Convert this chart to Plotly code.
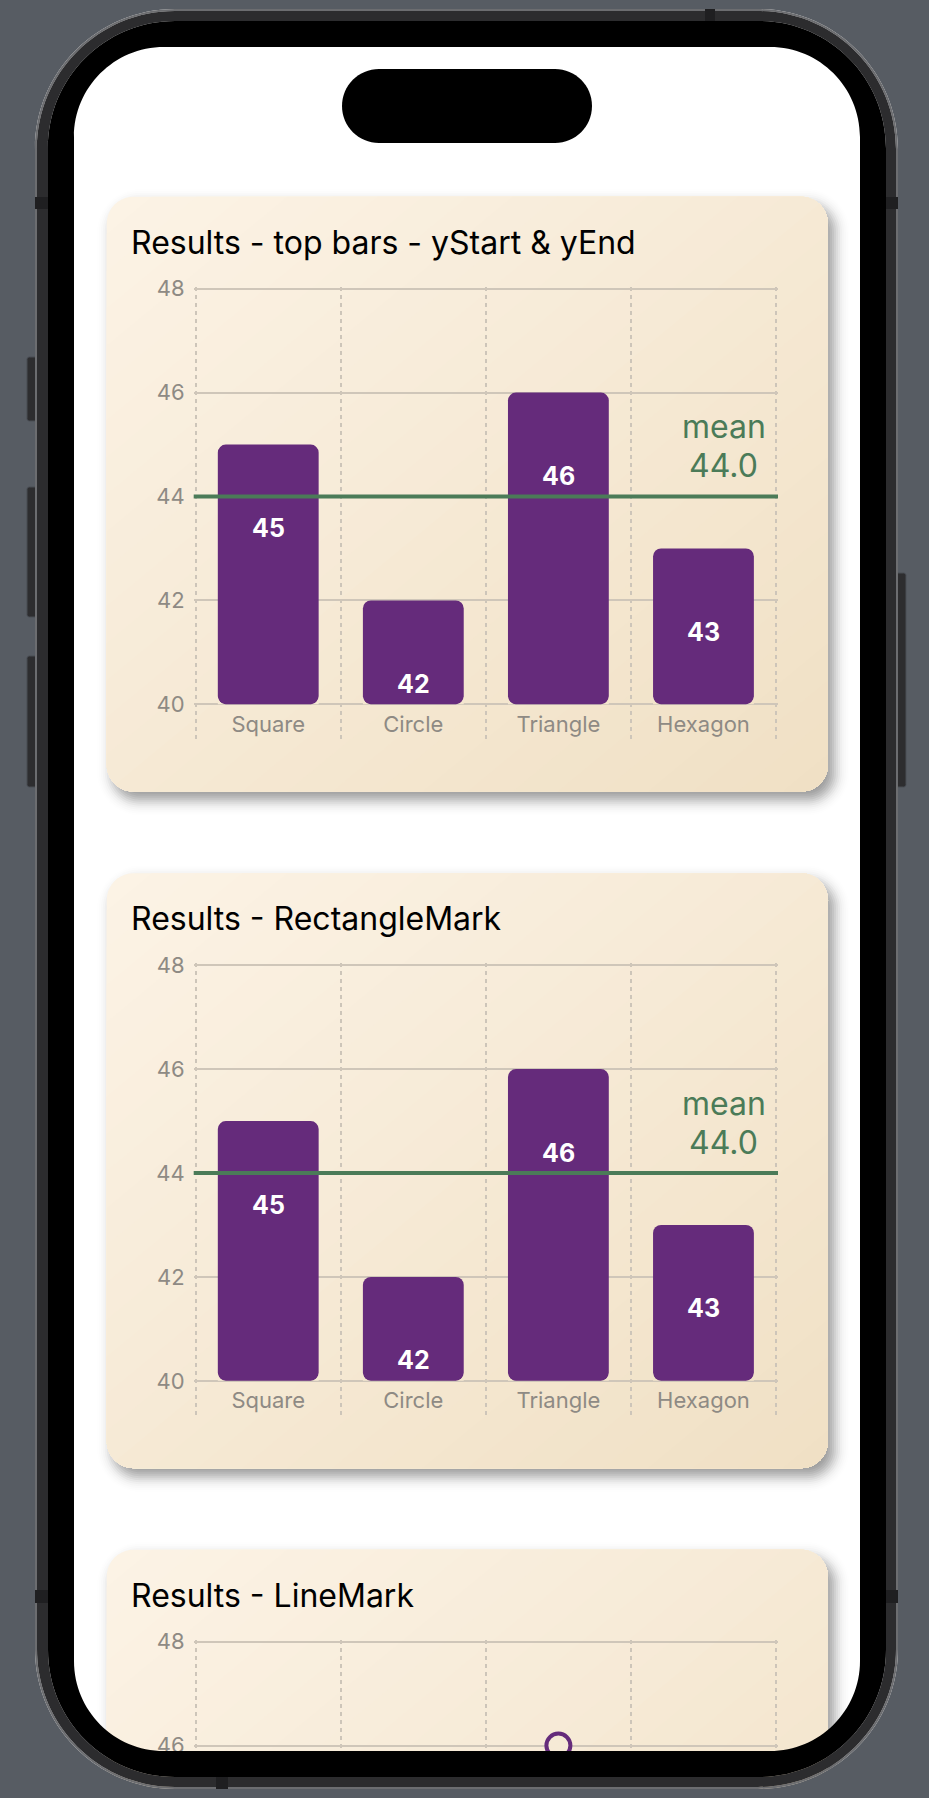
import math
import plotly.graph_objects as go

W, H = 929, 1798

# ---------------- data ----------------
categories = ["Square", "Circle", "Triangle", "Hexagon"]
values = [45, 42, 46, 43]
y_tick_values = [40, 42, 44, 46, 48]
y_min, y_max = 40, 48
chart_titles = ["Results - top bars - yStart & yEnd", "Results - RectangleMark", "Results - LineMark"]
mean_value = sum(values) / len(values)
mean_label = "mean"

# ---------------- style ----------------
BG = "#575c63"
PURPLE = "#652b7b"
GREEN = "#4b7b58"
GRID_H = "#cfc6b9"
GRID_V = "#cdc5b9"
TICK = "#8e8a84"
CARD_C0 = (252, 243, 230)
CARD_C1 = (240, 224, 196)
FONT = "Inter, Roboto, sans-serif"

CARD_X0, CARD_X1 = 106.7, 828.0
CARD_Y0, CARD_H = 196.7, 595.0
CARD_STEP = 676.5
CARD_R = 27
PLOT_X0, PLOT_X1 = 195.7, 776.0
PLOT_TOP = 288.7
PLOT_BASE = 704.3
PLOT_BOTTOM = 739.0
PPU = (PLOT_BASE - PLOT_TOP) / (y_max - y_min)
CATW = (PLOT_X1 - PLOT_X0) / len(categories)
EDGE = 2.0  # px of slack so edge grid lines are drawn
BAR_W = 0.695
BAR_R = 8
NGRAD = 32


def px(x):
    return x / W


def py(y):
    return 1 - y / H


def P(x, y):
    return f"{px(x):.5f},{py(y):.5f}"


def rr_sub(x0, y0, x1, y1, r, k=0.5523):
    c = r * (1 - k)
    return (f"M{P(x0 + r, y0)} L{P(x1 - r, y0)} C{P(x1 - c, y0)} {P(x1, y0 + c)} {P(x1, y0 + r)} "
            f"L{P(x1, y1 - r)} C{P(x1, y1 - c)} {P(x1 - c, y1)} {P(x1 - r, y1)} "
            f"L{P(x0 + r, y1)} C{P(x0 + c, y1)} {P(x0, y1 - c)} {P(x0, y1 - r)} "
            f"L{P(x0, y0 + r)} C{P(x0, y0 + c)} {P(x0 + c, y0)} {P(x0 + r, y0)} Z")


def rect_sub(x0, y0, x1, y1):
    return f"M{P(x0, y0)} L{P(x1, y0)} L{P(x1, y1)} L{P(x0, y1)} Z"


def rr_poly(x0, y0, x1, y1, r, n=10):
    pts = []
    corners = [(x1 - r, y0 + r, -90, 0), (x1 - r, y1 - r, 0, 90),
               (x0 + r, y1 - r, 90, 180), (x0 + r, y0 + r, 180, 270)]
    for cx, cy, a0, a1 in corners:
        for k in range(n + 1):
            a = math.radians(a0 + (a1 - a0) * k / n)
            pts.append((cx + r * math.cos(a), cy + r * math.sin(a)))
    return pts


def clip(poly, t, f):
    out = []
    n = len(poly)
    for i in range(n):
        a = poly[i]
        b = poly[(i + 1) % n]
        fa = f(a) - t
        fb = f(b) - t
        if fa >= 0:
            out.append(a)
        if (fa >= 0) != (fb >= 0):
            s = fa / (fa - fb)
            out.append((a[0] + s * (b[0] - a[0]), a[1] + s * (b[1] - a[1])))
    return out


def poly_path(pts):
    return "M" + " L".join(P(x, y) for x, y in pts) + " Z"


def lerp_col(t):
    c = [round(CARD_C0[i] + (CARD_C1[i] - CARD_C0[i]) * t) for i in range(3)]
    return f"rgb({c[0]},{c[1]},{c[2]})"


def card_color_at(x, y, card_i):
    y0 = CARD_Y0 + card_i * CARD_STEP
    fval = (x - CARD_X0) / (CARD_X1 - CARD_X0) + (y - y0) / CARD_H
    k = max(0, min(NGRAD - 1, int(fval * NGRAD / 2)))
    return lerp_col((k + 0.5) / NGRAD)


shapes = []


def paper_shape(path, fill, layer="below", line=None):
    d = dict(type="path", xref="paper", yref="paper", path=path, fillcolor=fill,
             layer=layer, line=dict(width=0))
    if line:
        d["line"] = line
    shapes.append(d)


# ---------------- cards (shadow + gradient) ----------------
def phi(z):
    return 0.5 * (1 + math.erf(z / math.sqrt(2)))


for i in range(3):
    y0 = CARD_Y0 + i * CARD_STEP
    y1 = y0 + CARD_H
    sdx, sdy, sig, amp = 6, 8, 7.0, 0.40
    exps = list(range(20, -12, -2))
    dprev = 0.0
    for e in exps:
        tmid = amp * (1 - phi((e - 1) / sig))
        a = 1 - (1 - tmid) / (1 - dprev)
        a = max(0.0, min(1.0, a))
        dprev = 1 - (1 - dprev) * (1 - a)
        if a <= 0.001:
            continue
        paper_shape(rr_sub(CARD_X0 + sdx - e, y0 + sdy - e, CARD_X1 + sdx + e, y1 + sdy + e,
                           max(2, CARD_R + e)), f"rgba(0,0,0,{a:.4f})")
    poly = rr_poly(CARD_X0, y0, CARD_X1, y1, CARD_R)
    wdt, hgt = CARD_X1 - CARD_X0, y1 - y0
    f = (lambda p, y0=y0, wdt=wdt, hgt=hgt: (p[0] - CARD_X0) / wdt + (p[1] - y0) / hgt)
    for k in range(NGRAD):
        t = 2 * k / NGRAD
        sub = poly if k == 0 else clip(poly, t, f)
        if len(sub) < 3:
            continue
        paper_shape(poly_path(sub), lerp_col((k + 0.5) / NGRAD))

# ---------------- figure ----------------
fig = go.Figure()
annotations = []
layout_axes = {}

kk = 0.5523
cc = BAR_R * (1 - kk)
LEFT_CUT = f"M0,0 L{BAR_R},0 C{cc:.3f},0 0,{cc:.3f} 0,{BAR_R} Z"
RIGHT_CUT = f"M0,0 L0,{BAR_R} C0,{cc:.3f} {-cc:.3f},0 {-BAR_R},0 Z"

for i in range(3):
    n = "" if i == 0 else str(i + 1)
    off = i * CARD_STEP
    top = PLOT_TOP + off - EDGE
    bottom = min(PLOT_BOTTOM + off, H)
    y_hi = y_max + EDGE / PPU
    lo = y_hi - (bottom - top) / PPU
    ex = EDGE / CATW
    xa = "x" + n
    ya = "y" + n
    layout_axes["xaxis" + n] = dict(
        domain=[px(PLOT_X0 - EDGE), px(PLOT_X1 + EDGE)], anchor=ya, type="category",
        categoryorder="array", categoryarray=categories,
        range=[-0.5 - ex, len(categories) - 0.5 + ex],
        tickson="boundaries", showgrid=True, gridcolor=GRID_V, gridwidth=1.5, griddash="4px,4px",
        ticks="", showline=False, zeroline=False, ticklabelposition="inside",
        showticklabels=(i < 2), tickfont=dict(family=FONT, size=22, color=TICK),
        automargin=False, fixedrange=True)
    layout_axes["yaxis" + n] = dict(
        domain=[py(bottom), py(top)], anchor=xa, range=[lo, y_hi], tickvals=y_tick_values,
        showgrid=True, gridcolor=GRID_H, gridwidth=1.5, zeroline=False, ticks="",
        showline=False, tickfont=dict(family=FONT, size=22, color=TICK),
        ticklabelstandoff=int(6 + EDGE), automargin=False, fixedrange=True)

    annotations.append(dict(xref="paper", yref="paper", x=px(128.5), y=py(242 + off),
                            xanchor="left", yanchor="middle", showarrow=False,
                            text=chart_titles[i], font=dict(family=FONT, size=32, color="black")))

    if i < 2:
        fig.add_trace(go.Bar(x=categories, y=[v - y_min for v in values], base=y_min,
                             width=BAR_W, opacity=1,
                             marker=dict(color=PURPLE, line=dict(width=0), cornerradius=BAR_R),
                             xaxis=xa, yaxis=ya, hoverinfo="skip"))
        # round the lower corners of the bars (small card-coloured corner masks)
        for j in range(len(categories)):
            xl_px = PLOT_X0 + (j + 0.5 - BAR_W / 2) * CATW
            xr_px = PLOT_X0 + (j + 0.5 + BAR_W / 2) * CATW
            yb_px = PLOT_BASE + off
            for anchor, cut, xp in [(j - BAR_W / 2, LEFT_CUT, xl_px + 2),
                                    (j + BAR_W / 2, RIGHT_CUT, xr_px - 2)]:
                shapes.append(dict(type="path", xref=xa, yref=ya, xsizemode="pixel",
                                   ysizemode="pixel", xanchor=anchor, yanchor=y_min, path=cut,
                                   fillcolor=card_color_at(xp, yb_px - 2, i), layer="above",
                                   line=dict(width=0)))
        for c, v in zip(categories, values):
            annotations.append(dict(xref=xa, yref=ya, x=c, y=v, yshift=-83.5, showarrow=False,
                                    text=str(v), yanchor="middle",
                                    font=dict(family=FONT, size=25, color="white", weight=700)))
        shapes.append(dict(type="line", xref=xa + " domain", yref=ya, x0=0, x1=1,
                           y0=mean_value, y1=mean_value, layer="above",
                           line=dict(color=GREEN, width=4)))
        mx = (723.5 - (PLOT_X0 - EDGE)) / (PLOT_X1 - PLOT_X0 + 2 * EDGE)
        annotations.append(dict(xref=xa + " domain", yref=ya, x=mx, y=mean_value, yshift=70,
                                showarrow=False, text=mean_label, xanchor="center", yanchor="middle",
                                font=dict(family=FONT, size=32, color=GREEN)))
        annotations.append(dict(xref=xa + " domain", yref=ya, x=mx, y=mean_value, yshift=31,
                                showarrow=False, text=f"{mean_value:.1f}", xanchor="center",
                                yanchor="middle", font=dict(family=FONT, size=32, color=GREEN)))
    else:
        fig.add_trace(go.Scatter(x=categories, y=values, mode="lines+markers",
                                 line=dict(color=PURPLE, width=3),
                                 marker=dict(symbol="circle", size=24,
                                             color=card_color_at(558, 1745, 2),
                                             line=dict(color=PURPLE, width=4)),
                                 xaxis=xa, yaxis=ya, hoverinfo="skip", cliponaxis=True))

# ---------------- phone frame (masks above everything) ----------------
OUT = (35, 9, 898, 1789, 140)
DARK = (37, 11, 896, 1787, 138)
BLACK = (48, 21, 886, 1777, 127)
SCREEN = (74, 47, 860, 1751, 90)

paper_shape(rect_sub(-10, -10, W + 10, H + 10) + " " + rr_sub(*OUT), BG, layer="above")
for bx0, by0, bx1, by1 in [(27, 357, 38, 421), (27, 487, 38, 617), (27, 656, 38, 787),
                           (895, 573, 906, 787)]:
    paper_shape(rr_sub(bx0, by0, bx1, by1, 2.5), "#2d2d2f", layer="above",
                line=dict(color="#4a4e55", width=1))
paper_shape(rr_sub(*OUT) + " " + rr_sub(*DARK), "#6c6d70", layer="above")
paper_shape(rr_sub(*DARK) + " " + rr_sub(*BLACK), "#2c2c2e", layer="above")
paper_shape(rr_sub(*BLACK) + " " + rr_sub(*SCREEN), "#000000", layer="above")
for nx0, ny0, nx1, ny1 in [(35, 197, 48, 209), (886, 197, 898, 209), (705, 9, 715, 21),
                           (35, 1590, 48, 1603), (886, 1590, 898, 1603), (216, 1777, 228, 1789)]:
    paper_shape(rect_sub(nx0, ny0, nx1, ny1), "#1f1f21", layer="above")
paper_shape(rr_sub(342, 69, 592, 143, 37), "#000000", layer="above")

fig.update_layout(
    template="none", width=W, height=H, margin=dict(l=0, r=0, t=0, b=0, pad=0),
    paper_bgcolor="white", plot_bgcolor="rgba(0,0,0,0)", showlegend=False,
    barmode="overlay", shapes=shapes, annotations=annotations,
    font=dict(family=FONT), **layout_axes)

fig.write_html("out.html", config={"displayModeBar": False})
